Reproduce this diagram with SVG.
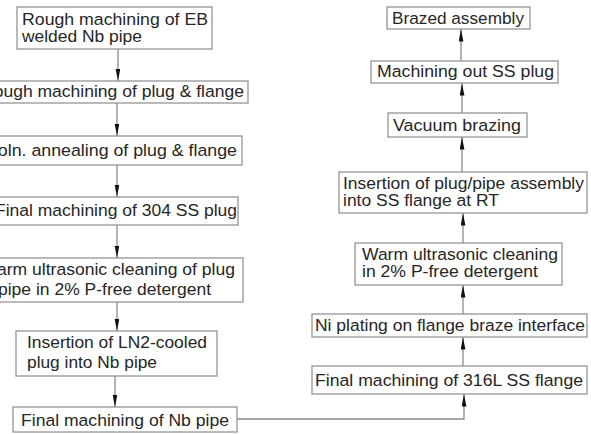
<svg xmlns="http://www.w3.org/2000/svg" width="591" height="434" viewBox="0 0 591 434">
<defs>
<marker id="ah" markerUnits="userSpaceOnUse" markerWidth="13" markerHeight="6" refX="12.5" refY="2.4" orient="auto">
<path d="M0,0 L12.5,2.4 L0,4.8 Z" fill="#111"/>
</marker>
<style>
.b{fill:#fff;stroke:#8c8c8c;stroke-width:1.2}
.t{font-family:"Liberation Sans",Arial,sans-serif;font-size:16.3px;fill:#262626}
.c{fill:none;stroke:#8c8c8c;stroke-width:1.3}
</style>
</defs>
<rect width="591" height="434" fill="#fff"/>
<g id="connectors">
<path class="c" d="M118,49 V81" marker-end="url(#ah)"/>
<path class="c" d="M117,103 V136" marker-end="url(#ah)"/>
<path class="c" d="M117,165 V197" marker-end="url(#ah)"/>
<path class="c" d="M117,225 V258" marker-end="url(#ah)"/>
<path class="c" d="M117,302 V331" marker-end="url(#ah)"/>
<path class="c" d="M115,376 V407" marker-end="url(#ah)"/>
<path class="c" d="M237,419 H464 V394" marker-end="url(#ah)"/>
<path class="c" d="M463,366 V337" marker-end="url(#ah)"/>
<path class="c" d="M463,314 V285" marker-end="url(#ah)"/>
<path class="c" d="M463,243 V213" marker-end="url(#ah)"/>
<path class="c" d="M462,172 V137" marker-end="url(#ah)"/>
<path class="c" d="M462,113 V83" marker-end="url(#ah)"/>
<path class="c" d="M461,61 V29" marker-end="url(#ah)"/>
</g>
<g id="n1"><rect class="b" x="17" y="7" width="195" height="42"/>
<text class="t" x="22" y="25" textLength="186" lengthAdjust="spacingAndGlyphs">Rough machining of EB</text>
<text class="t" x="22" y="42" textLength="120" lengthAdjust="spacingAndGlyphs">welded Nb pipe</text></g>
<g id="n2"><rect class="b" x="-10" y="81" width="258" height="22"/>
<text class="t" x="-19" y="97" textLength="263" lengthAdjust="spacingAndGlyphs">Rough machining of plug &amp; flange</text></g>
<g id="n3"><rect class="b" x="-10" y="136" width="252" height="29"/>
<text class="t" x="-14" y="156" textLength="251" lengthAdjust="spacingAndGlyphs">Soln. annealing of plug &amp; flange</text></g>
<g id="n4"><rect class="b" x="-10" y="197" width="248" height="28"/>
<text class="t" x="-5" y="216" textLength="242" lengthAdjust="spacingAndGlyphs">Final machining of 304 SS plug</text></g>
<g id="n5"><rect class="b" x="-10" y="258" width="253" height="44"/>
<text class="t" x="-19" y="275" textLength="254" lengthAdjust="spacingAndGlyphs">Warm ultrasonic cleaning of plug</text>
<text class="t" x="-2" y="295" textLength="213" lengthAdjust="spacingAndGlyphs">pipe in 2% P-free detergent</text></g>
<g id="n6"><rect class="b" x="16" y="331" width="201" height="45"/>
<text class="t" x="27" y="348" textLength="180" lengthAdjust="spacingAndGlyphs">Insertion of LN2-cooled</text>
<text class="t" x="27" y="368" textLength="130" lengthAdjust="spacingAndGlyphs">plug into Nb pipe</text></g>
<g id="n7"><rect class="b" x="13" y="407" width="224" height="25"/>
<text class="t" x="21" y="426" textLength="208" lengthAdjust="spacingAndGlyphs">Final machining of Nb pipe</text></g>
<g id="r1"><rect class="b" x="387" y="7" width="143" height="22"/>
<text class="t" x="392" y="24" textLength="132" lengthAdjust="spacingAndGlyphs">Brazed assembly</text></g>
<g id="r2"><rect class="b" x="371" y="61" width="187" height="22"/>
<text class="t" x="377" y="77" textLength="177" lengthAdjust="spacingAndGlyphs">Machining out SS plug</text></g>
<g id="r3"><rect class="b" x="388" y="113" width="139" height="24"/>
<text class="t" x="393" y="131" textLength="128" lengthAdjust="spacingAndGlyphs">Vacuum brazing</text></g>
<g id="r4"><rect class="b" x="339" y="172" width="248" height="41"/>
<text class="t" x="343" y="189" textLength="241" lengthAdjust="spacingAndGlyphs">Insertion of plug/pipe assembly</text>
<text class="t" x="343" y="206" textLength="156" lengthAdjust="spacingAndGlyphs">into SS flange at RT</text></g>
<g id="r5"><rect class="b" x="355" y="243" width="207" height="42"/>
<text class="t" x="362" y="260" textLength="196" lengthAdjust="spacingAndGlyphs">Warm ultrasonic cleaning</text>
<text class="t" x="362" y="277" textLength="176" lengthAdjust="spacingAndGlyphs">in 2% P-free detergent</text></g>
<g id="r6"><rect class="b" x="312" y="314" width="275" height="23"/>
<text class="t" x="315" y="331" textLength="270" lengthAdjust="spacingAndGlyphs">Ni plating on flange braze interface</text></g>
<g id="r7"><rect class="b" x="312" y="366" width="275" height="28"/>
<text class="t" x="315" y="386" textLength="268" lengthAdjust="spacingAndGlyphs">Final machining of 316L SS flange</text></g>
</svg>
